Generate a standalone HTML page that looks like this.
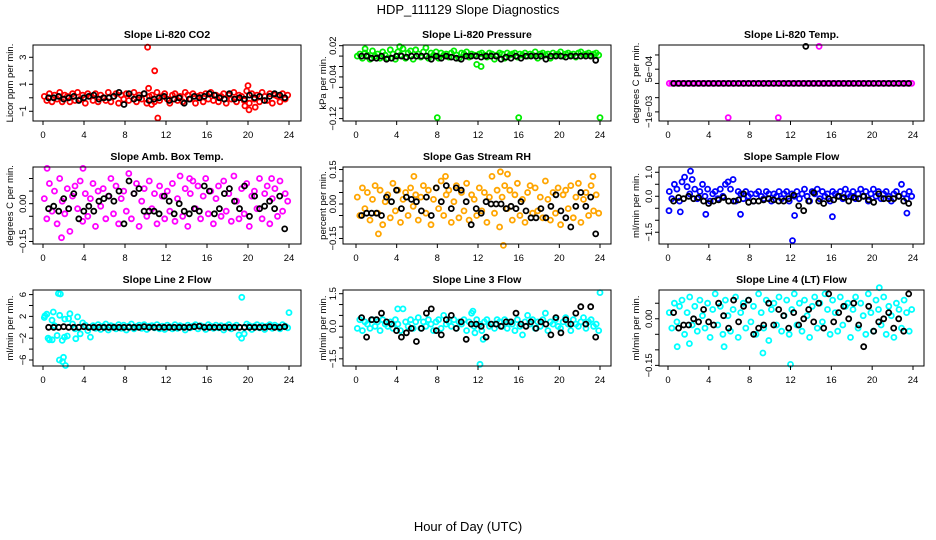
<!DOCTYPE html>
<html><head><meta charset="utf-8"><style>
html,body{margin:0;padding:0;background:#fff;}
svg{display:block;font-family:"Liberation Sans",Arial,sans-serif;}
</style></head><body>
<svg id="chart" width="936" height="540" viewBox="0 0 936 540" xmlns="http://www.w3.org/2000/svg">
<rect x="0" y="0" width="936" height="540" fill="#fff"/>
<text x="468" y="14" text-anchor="middle" font-size="13">HDP_111129  Slope Diagnostics</text>
<text x="468" y="531" text-anchor="middle" font-size="13">Hour of Day (UTC)</text>
<g id="panels"></g>
</svg>
<script>
const xTicks=[0,4,8,12,16,20,24];
// Panel 1: CO2
const p1Color=[0.1,-0.2,0.3,-0.3,0.2,-0.1,0.4,-0.3,0.2,0.1,-0.3,0.3,-0.2,0.4,-0.1,0.2,-0.4,0.3,0.1,-0.2,0.3,-0.3,0.2,0,-0.2,0.4,-0.3,0.1,0.3,-0.4,0.2,-0.1,0.3,-0.2,0.1,0.4,-0.3,0.2,-0.1,0.3,-0.4,0.1,0.2,-0.3,0.4,-0.2,0.1,0.3,-0.1,-0.4,0.2,0.3,-0.2,0.1,-0.3,0.4,0.2,-0.1,0.3,-0.4,0.1,0.2,-0.3,0.3,-0.1,0.4,-0.2,0.2,-0.3,0.1,0.3,-0.4,0.2,-0.1,0.4,-0.3,0.2,0.1,-0.2,0.5,-0.4,0.3,-0.1,0.2,-0.3,0.4,0.1,-0.2,0.3,-0.4,0.2,0.1,-0.3,0.3,-0.1,0.2];
const p1Black=[0,0,0.1,-0.1,0,0.1,-0.2,0,0.1,0.2,-0.1,0,0,0.1,0.4,-0.5,0.3,-0.1,0,0.3,-0.2,-0.1,0,0.1,-0.2,-0.1,0,-0.4,-0.1,0.1,0,0.1,0.3,0.2,0,-0.1,0.3,-0.1,0,-0.1,0.2,0,0.1,-0.2,0.1,0.3,0.2,0];
const p1OutX=[10.2,10.9,11.2,10.3,20,20.1,20.7,10.6,19.7];
const p1OutY=[3.75,2.0,-1.5,0.7,0.9,-0.9,-0.7,-0.5,-0.6];
// Panel 2: Pressure
const p2Color=[0,0.004,-0.004,0.006,0.002,-0.006,0.01,0,0.004,-0.004,0.008,0.002,-0.004,0.012,0.004,-0.006,0.008,0.002,0.014,-0.004,0.006,0.01,-0.006,0.012,0.004,-0.002,0.008,0.016,-0.004,0.006,0.002,0.008,-0.004,0.006,0.002,0.004,-0.002,0.006,0.01,0.002,-0.004,0.006,0.004,0.008,-0.002,0.004,0.002,-0.016,0.004,0.006,0.002,-0.002,0.006,0.004,-0.006,0.002,0.006,0.004,-0.004,0.006,0.002,0.004,0.006,-0.002,0.004,0.002,0.006,0,0.004,0.002,0.008,-0.004,0.004,0.006,0.002,0.004,-0.004,0.006,0.002,0.004,0.008,0,0.004,0.006,0.002,0.004,-0.002,0.006,0.008,0.002,0.004,0.006,0.002,0.004,0.006,0.002];
const p2Black=[0,0,-0.004,-0.004,0,-0.006,-0.004,0,0,-0.002,0,0,0,0,-0.006,0,-0.004,0,-0.002,-0.004,-0.006,0,0,0,-0.002,0,0,0,-0.006,-0.002,-0.004,0,-0.004,0,0,0,0,-0.006,0,0,0,-0.002,0,0,0,0,0,-0.008];
const p2OutX=[8,16,24,12.3,4.3,0.9];
const p2OutY=[-0.118,-0.118,-0.118,-0.02,0.018,0.014];
// Panel 3: Li-820 Temp
const p3Color=[0,0,0,0,0,0,0,0,0,0,0,0,0,0,0,0,0,0,0,0,0,0,0,0,0,0,0,0,0,0,0,0,0,0,0,0,0,0,0,0,0,0,0,0,0,0,0,0,0,0,0,0,0,0,0,0,0,0,0,0,0,0,0,0,0,0,0,0,0,0,0,0,0,0,0,0,0,0,0,0,0,0,0,0,0,0,0,0,0,0,0,0,0,0,0,0];
const p3Black=[0,0,0,0,0,0,0,0,0,0,0,0,0,0,0,0,0,0,0,0,0,0,0,0,0,0,0,0,0,0,0,0,0,0,0,0,0,0,0,0,0,0,0,0,0,0,0,0];
const p3OutX=[14.8,5.9,10.8];
const p3OutY=[0.0013,-0.0012,-0.0012];
const p3BlackOutX=[13.5];
const p3BlackOutY=[0.0013];
// Panel 4: Amb Box Temp
const p4Color=[0.02,-0.06,0.08,-0.03,0.05,-0.08,0.1,0.01,-0.04,0.06,-0.11,0.03,0.07,-0.02,0.09,-0.07,0.04,-0.05,0.02,0.08,-0.09,0.05,-0.01,0.06,-0.06,0.03,0.1,-0.04,0.07,-0.08,0.02,0.05,-0.03,0.12,-0.06,0.04,0.08,-0.09,0.01,0.06,-0.05,0.09,-0.02,0.04,-0.08,0.07,0.03,-0.06,0.05,-0.03,0.08,-0.07,0.02,0.11,-0.05,0.06,-0.09,0.04,0.09,-0.02,0.07,-0.06,0.03,0.1,-0.04,0.05,-0.08,0.02,0.07,-0.05,0.09,-0.03,0.04,-0.07,0.11,0.01,-0.06,0.06,-0.04,0.08,-0.09,0.03,0.05,-0.02,0.1,-0.06,0.04,0.07,-0.08,0.02,0.06,-0.05,0.09,-0.03,0.04,0.01];
const p4Black=[-0.02,-0.01,-0.03,0.02,-0.02,0.04,-0.06,-0.03,-0.01,-0.03,0.01,0.02,0.03,0.01,0.05,-0.08,0.09,0.04,0.06,-0.03,-0.03,-0.03,-0.04,0.03,0.01,-0.04,0,-0.03,-0.04,-0.02,-0.03,0.07,0.05,-0.04,-0.02,0.04,0.06,0.01,-0.02,0.07,-0.05,0.03,-0.02,-0.01,0.01,-0.02,0.03,-0.1];
const p4OutX=[0.4,1.8,3.9,14.3,22.3];
const p4OutY=[0.14,-0.135,0.14,0.1,0.1];
// Panel 5: Gas Stream RH
const p5Color=[0.03,-0.05,0.07,-0.02,0.05,-0.07,0.02,0.08,-0.04,0.06,-0.09,0.01,0.04,-0.06,0.09,-0.03,0.06,-0.08,0.02,0.05,-0.05,0.07,-0.01,0.04,-0.07,0.03,0.08,-0.04,0.06,-0.09,0.02,0.07,-0.02,0.1,-0.05,0.04,0.06,-0.08,0.01,0.08,-0.06,0.05,-0.03,0.09,-0.07,0.04,0.02,-0.05,0.07,-0.03,0.05,-0.08,0.03,0.12,-0.04,0.06,-0.1,0.03,0.08,-0.02,0.06,-0.07,0.04,0.09,-0.05,0.02,-0.08,0.05,0.08,-0.04,0.07,-0.03,0.03,-0.06,0.1,0.02,-0.07,0.05,-0.04,0.07,-0.09,0.04,0.06,-0.02,0.08,-0.06,0.03,0.09,-0.08,0.02,0.05,-0.05,0.08,-0.03,0.04,-0.04];
const p5Black=[-0.05,-0.04,-0.04,-0.04,-0.05,0.03,0.01,0.06,-0.02,0.03,0.02,0.01,-0.03,0.03,-0.05,0.07,0.01,0.08,-0.02,0.07,0.06,0.01,-0.09,-0.02,-0.04,0.01,0,0,0,-0.02,-0.01,-0.02,0.01,-0.03,-0.06,-0.06,-0.02,-0.06,-0.01,0.04,-0.03,-0.06,-0.1,-0.01,0.05,-0.01,0.03,-0.13];
const p5OutX=[14.5,14.2,14.9,2.2,5.7,8.8,23.3];
const p5OutY=[-0.18,0.14,0.13,-0.13,0.12,0.12,0.12];
// Panel 6: Sample Flow
const p6Color=[0.2,-0.1,0.5,0.3,-0.2,0.6,0.8,0.4,0.1,0.7,0.3,-0.1,0.2,0.5,0,0.3,-0.2,0.1,0.2,-0.1,0.3,0,0.5,0.6,0.3,0.7,-0.2,0.2,0.1,-0.1,0.2,0,0.1,-0.2,0.1,0.2,0,-0.1,0.2,0.1,-0.2,0.1,0,0.2,-0.1,0.1,0.2,-0.2,0.1,0,0.2,-0.1,0.1,0.3,0,-0.2,0.2,0.1,0.3,-0.1,0.2,0,0.1,-0.2,0.2,0.1,0,0.2,-0.1,0.3,0.1,0,0.2,-0.1,0.1,0.3,0,0.2,-0.2,0.1,0.3,0,0.2,-0.1,0.1,0.2,0,-0.2,0.1,0.2,0,0.5,0.1,-0.1,0.2,0];
const p6Black=[-0.2,-0.05,-0.1,0,-0.1,-0.05,-0.2,-0.3,-0.2,-0.15,-0.05,-0.2,-0.2,-0.15,0.1,-0.25,-0.2,-0.2,-0.15,-0.1,-0.15,-0.2,-0.2,-0.1,0.05,-0.4,-0.6,-0.2,0.15,-0.2,-0.3,-0.1,-0.15,0,-0.05,-0.2,-0.05,-0.1,0,-0.15,-0.25,0.1,-0.1,-0.1,-0.1,0,-0.2,-0.3];
const p6OutX=[12.2,12.4,16.1,0.1,1.2,23.4,2.2,3.7,7.1];
const p6OutY=[-1.85,-0.8,-0.85,-0.6,-0.65,-0.7,1.05,-0.75,-0.75];
// Panel 7: Line 2 Flow
const p7Color=[1.8,2.4,-2.3,1.3,0.3,-1.5,2.2,-2.4,1.5,-1.6,2.5,0.6,-0.3,1.9,-1.2,0.8,0.4,-0.6,-1.8,0.3,-0.2,0.5,-0.4,0.2,0.6,-0.5,0.3,0.1,-0.3,0.5,-0.2,0.4,-0.5,0.2,0.6,-0.3,0.1,0.4,-0.2,0.5,-0.4,0.2,0.3,-0.1,0.5,-0.3,0.2,-0.4,0.4,0.1,-0.3,0.5,-0.2,0.3,0.1,-0.5,0.4,-0.1,0.2,0.5,-0.3,0.3,0.1,-0.4,0.5,0.2,-0.2,0.4,-0.1,0.3,-0.5,0.2,0.5,-0.3,0.1,0.4,-1.4,-2,-1.2,0.6,0.3,-0.4,0.2,0.5,-0.1,0.3,-0.4,0.2,0.5,-0.2,0.4,0.1,-0.3,0.5,0.2,-0.1];
const p7Black=[0,0,0,0.1,0,0,0,0.1,0,0,0,0,0,0,0,0,0,0,0,0.1,0,0,0,0,0,0,0,0,0,0.1,0.2,0,0,0,0,0,0,0,0,0,0,0,0,0,0.1,0,0,0.1];
const p7OutX=[1.5,1.7,1.6,2.0,1.9,2.2,19.4,24,0.9,0.2,0.5,1.0,2.5,3.2,2.1];
const p7OutY=[6.2,6.1,-6,-5.5,-6.3,-7,5.5,2.7,-2.3,2.1,-2,2.8,1.6,-2.1,-1.8];
// Panel 8: Line 3 Flow
const p8Color=[-0.1,0.3,-0.2,0.2,0.1,-0.1,0.3,0,0.2,-0.2,0.3,0.1,0,0.2,-0.1,0.3,0.1,-0.2,0.8,0.2,0,0.3,-0.1,0.2,0.4,-0.1,0.2,0,0.3,0.1,-0.2,0.2,0.3,-0.1,0.5,0.1,0.2,0,0.3,-0.1,0.2,0.1,0.3,-0.2,0.2,0.6,0,0.3,0.1,-0.2,0.2,0.3,0,0.1,-0.1,0.3,0.2,0,0.3,-0.1,0.2,0.1,-0.2,0.3,0,-0.4,0.2,0.5,0.1,0.3,-0.1,0.2,0,0.3,0.6,-0.2,0.2,0.1,0.3,0,-0.1,0.2,0.4,0.1,-0.2,0.3,0.1,0,0.2,0.4,-0.1,0.2,0.3,0,0.1,-0.2];
const p8Black=[0.4,-0.5,0.3,0.3,0.6,0.2,0.1,-0.2,-0.5,-0.3,-0.1,-0.7,-0.1,0.6,0.8,-0.2,-0.4,0.3,0.5,-0.1,0.2,-0.6,0.1,0.1,0,-0.5,0.1,0.1,0,0.2,0.2,0.6,0.1,0,0.2,-0.1,0.2,0.1,-0.4,0.4,-0.3,0.3,0.1,0.6,0.9,0.1,0.9,-0.5];
const p8OutX=[24,12.2,12.5,4.1,11.5,11.7];
const p8OutY=[1.55,-1.75,-0.6,0.8,0.7,-0.3];
// Panel 9: Line 4 (LT) Flow
const p9Color=[0.02,-0.03,0.05,-0.01,0.04,0.06,-0.05,0.02,0.07,-0.02,0.04,-0.04,0.06,0.01,-0.03,0.05,-0.06,0.03,0.08,-0.02,0.04,-0.05,0.06,0.01,-0.04,0.03,0.07,-0.06,0.02,0.05,-0.03,0.06,-0.01,0.04,-0.05,0.08,0.02,-0.03,0.06,-0.07,0.03,0.05,-0.02,0.07,-0.04,0.01,0.06,-0.05,0.03,0.08,-0.02,0.05,-0.04,0.06,0.01,-0.06,0.04,0.07,-0.03,0.05,-0.01,0.08,0.03,-0.05,0.06,0.02,-0.04,0.07,-0.02,0.04,0.05,-0.06,0.03,0.07,-0.03,0.05,0.01,-0.05,0.08,0.02,-0.04,0.06,0.03,-0.02,0.07,-0.05,0.04,0.01,-0.06,0.05,0.03,-0.03,0.06,0.02,-0.04,0.03];
const p9Black=[0.02,-0.03,-0.02,-0.02,0,-0.01,0.03,-0.01,-0.02,0.05,0.01,-0.03,0.06,-0.01,0.04,0.06,-0.05,-0.03,-0.02,0.05,-0.02,0.03,0.01,-0.03,0.02,-0.02,0,0.03,-0.01,0.05,-0.03,0.08,-0.01,0.02,0.04,0,0.05,-0.02,-0.09,0.04,-0.04,-0.01,0,0.02,-0.03,0,-0.04,0.08];
const p9OutX=[0.9,3.9,12,9.3,5.5,20.7,2.1];
const p9OutY=[-0.09,0.11,-0.147,-0.11,-0.09,0.1,-0.08];

const NS="http://www.w3.org/2000/svg";
const root=document.getElementById('panels');
const cols=[{l:33,r:301,x0:43,x1:289,ly:10},{l:343,r:611,x0:356,x1:600,ly:323},{l:659,r:924,x0:668,x1:913,ly:636}];
const rows=[{t:45,b:121},{t:167,b:244},{t:290,b:366}];
function mk(tag,attrs,parent){const e=document.createElementNS(NS,tag);for(const k in attrs)e.setAttribute(k,attrs[k]);parent.appendChild(e);return e;}
const panels=[
 {title:"Slope Li-820 CO2",ylab:"Licor ppm per min.",dom:[-1.72,3.91],ticks:[-1,0,1,2,3],labels:[[3,"3"],[1,"1"],[-1,"\u22121"]],col:"#ff0000",c:p1Color,k:p1Black,ox:p1OutX,oy:p1OutY},
 {title:"Slope Li-820 Pressure",ylab:"kPa per min.",dom:[-0.1246,0.0213],ticks:[0.02,0,-0.02,-0.04,-0.06,-0.08,-0.1,-0.12],labels:[[0.02,"0.02"],[-0.04,"\u22120.04"],[-0.12,"\u22120.12"]],col:"#00ee00",c:p2Color,k:p2Black,ox:p2OutX,oy:p2OutY},
 {title:"Slope Li-820 Temp.",ylab:"degrees C per min.",dom:[-0.00132,0.00135],ticks:[0.001,0.0005,0,-0.0005,-0.001],labels:[[0.0005,"5e\u221204"],[-0.001,"\u22121e\u221203"]],col:"#ff00ff",c:p3Color,k:p3Black,ox:p3OutX,oy:p3OutY,bx:p3BlackOutX,by:p3BlackOutY},
 {title:"Slope Amb. Box Temp.",ylab:"degrees C per min.",dom:[-0.16,0.1456],ticks:[0.1,0.05,0,-0.05,-0.1,-0.15],labels:[[0,"0.00"],[-0.15,"\u22120.15"]],col:"#ff00ff",c:p4Color,k:p4Black,ox:p4OutX,oy:p4OutY},
 {title:"Slope Gas Stream RH",ylab:"percent per min.",dom:[-0.174,0.161],ticks:[0.15,0.1,0.05,0,-0.05,-0.1,-0.15],labels:[[0.15,"0.15"],[0,"0.00"],[-0.15,"\u22120.15"]],col:"#ffa500",c:p5Color,k:p5Black,ox:p5OutX,oy:p5OutY},
 {title:"Slope Sample Flow",ylab:"ml/min per min.",dom:[-1.99,1.22],ticks:[1,0.5,0,-0.5,-1,-1.5],labels:[[1,"1.0"],[0,"0.0"],[-1.5,"\u22121.5"]],col:"#0000ff",c:p6Color,k:p6Black,ox:p6OutX,oy:p6OutY},
 {title:"Slope Line 2 Flow",ylab:"ml/min per min.",dom:[-7.1,6.84],ticks:[6,4,2,0,-2,-4,-6],labels:[[6,"6"],[2,"2"],[-2,"\u22122"],[-6,"\u22126"]],col:"#00ffff",c:p7Color,k:p7Black,ox:p7OutX,oy:p7OutY},
 {title:"Slope Line 3 Flow",ylab:"ml/min per min.",dom:[-1.83,1.67],ticks:[1.5,1,0.5,0,-0.5,-1,-1.5],labels:[[1.5,"1.5"],[0,"0.0"],[-1.5,"\u22121.5"]],col:"#00ffff",c:p8Color,k:p8Black,ox:p8OutX,oy:p8OutY},
 {title:"Slope Line 4 (LT) Flow",ylab:"ml/min per min.",dom:[-0.152,0.0926],ticks:[0.05,0,-0.05,-0.1,-0.15],labels:[[0,"0.00"],[-0.15,"\u22120.15"]],col:"#00ffff",c:p9Color,k:p9Black,ox:p9OutX,oy:p9OutY}
];
panels.forEach((p,i)=>{
 const C=cols[i%3],R=rows[Math.floor(i/3)];
 const xs=h=>C.x0+(C.x1-C.x0)*h/24;
 const ys=v=>R.b-(v-p.dom[0])/(p.dom[1]-p.dom[0])*(R.b-R.t);
 const g=mk('g',{},root);
 
 
 const t=mk('text',{x:(C.l+C.r)/2,y:R.t-7,'text-anchor':'middle','font-size':'10.5','font-weight':'bold'},g);t.textContent=p.title;
 
 
 const yl=mk('text',{x:0,y:0,'text-anchor':'middle','font-size':'9.5',transform:`translate(${C.ly+3},${(R.t+R.b)/2}) rotate(-90)`},g);yl.textContent=p.ylab;
 
 
 const pts=mk('g',{},g);
 
 
 const dot=(h,v,col)=>{const yy=ys(v);if(yy<R.t-3||yy>R.b+3)return;const c=mk('circle',{cx:xs(h).toFixed(1),cy:yy.toFixed(1),r:2.5,fill:'none',stroke:col,'stroke-width':1.8},pts);
  
  };
 p.c.forEach((v,j)=>dot(0.125+j*0.25,v,p.col));
 p.ox.forEach((h,j)=>dot(h,p.oy[j],p.col));
 p.k.forEach((v,j)=>dot(0.55+j*0.49,v,'#000'));
 if(p.bx)p.bx.forEach((h,j)=>dot(h,p.by[j],'#000'));
 const box=mk('rect',{x:C.l,y:R.t,width:C.r-C.l,height:R.b-R.t,fill:'none',stroke:'#000','stroke-width':1},g);
 
 
 const ax=mk('g',{},g);
 
 
 mk('line',{x1:C.l,x2:C.l,y1:ys(p.ticks[0]),y2:ys(p.ticks[p.ticks.length-1]),stroke:'#000'},ax);
 p.ticks.forEach(v=>mk('line',{x1:C.l-4,x2:C.l,y1:ys(v),y2:ys(v),stroke:'#000'},ax));
 p.labels.forEach(([v,s])=>{const e=mk('text',{'text-anchor':'middle','font-size':'9.5',transform:`translate(${C.l-7},${ys(v)}) rotate(-90)`},ax);e.textContent=s;});
 const xa=mk('g',{},g);
 
 
 mk('line',{x1:xs(0),x2:xs(24),y1:R.b,y2:R.b,stroke:'#000'},xa);
 xTicks.forEach(h=>{mk('line',{x1:xs(h),x2:xs(h),y1:R.b,y2:R.b+4,stroke:'#000'},xa);
  const e=mk('text',{x:xs(h),y:R.b+17,'text-anchor':'middle','font-size':'9.5'},xa);e.textContent=h;});
});
</script>
</body></html>
